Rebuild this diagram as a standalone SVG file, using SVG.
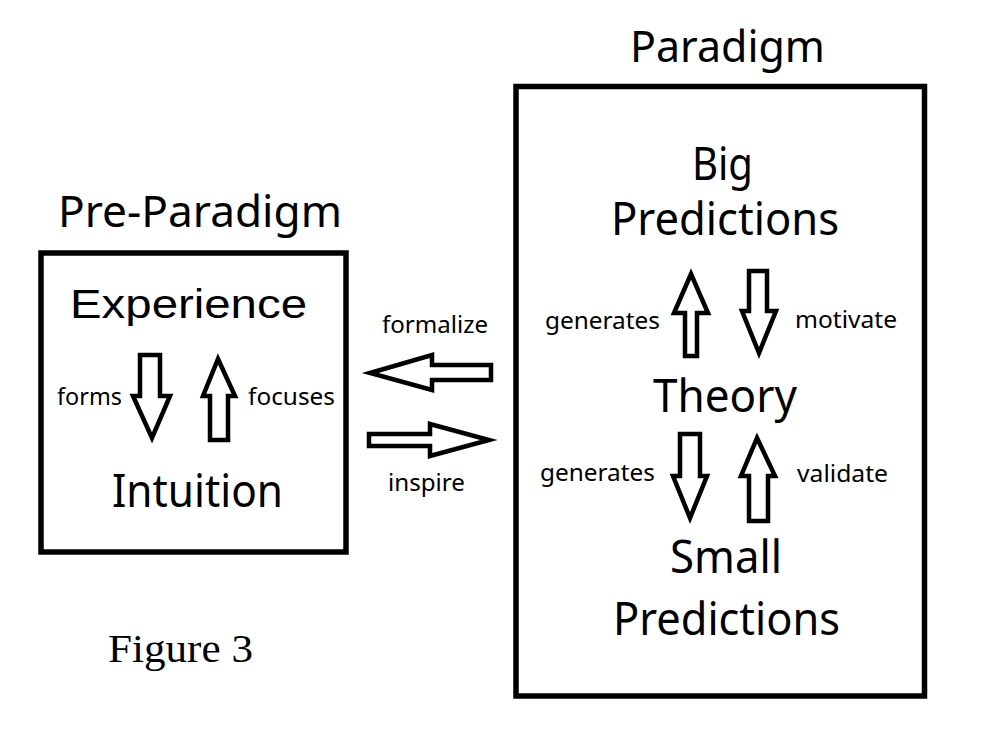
<svg xmlns="http://www.w3.org/2000/svg" width="987" height="745" viewBox="0 0 987 745">
<style>
.box{fill:none;stroke:#000;stroke-width:5.5}
.arr{fill:#fff;stroke:#000;stroke-width:4.5;stroke-linejoin:miter}
.big{font-family:"Noto Sans","Open Sans",sans-serif;font-size:46px;fill:#000}
.ttl{font-family:"Noto Sans","Open Sans",sans-serif;font-size:44px;fill:#000}
.lbl{font-family:"Noto Sans","Open Sans",sans-serif;font-size:23px;fill:#000}
.exp{font-family:"Liberation Sans",Arial,sans-serif;font-size:40px;fill:#000}
.fig{font-family:"Liberation Serif","Times New Roman",serif;font-size:39px;fill:#000}
</style>
<rect width="987" height="745" fill="#fff"/>
<g id="pre-paradigm">
<text class="ttl" x="58" y="227" textLength="284" lengthAdjust="spacingAndGlyphs">Pre-Paradigm</text>
<rect class="box" x="41" y="253" width="305" height="299"/>
</g>
<g id="experience"><text class="exp" x="70" y="318" textLength="237" lengthAdjust="spacingAndGlyphs">Experience</text></g>
<g id="intuition"><text class="big" x="112" y="507" textLength="171" lengthAdjust="spacingAndGlyphs">Intuition</text></g>
<g id="paradigm">
<text class="ttl" x="630" y="62" textLength="195" lengthAdjust="spacingAndGlyphs">Paradigm</text>
<rect class="box" x="516" y="86.5" width="408.5" height="609.5"/>
</g>
<g id="big-predictions">
<text class="big" x="692" y="180" textLength="61" lengthAdjust="spacingAndGlyphs">Big</text>
<text class="big" x="611" y="235" textLength="228" lengthAdjust="spacingAndGlyphs">Predictions</text>
</g>
<g id="theory"><text class="big" x="653" y="412" textLength="144" lengthAdjust="spacingAndGlyphs">Theory</text></g>
<g id="small-predictions">
<text class="big" x="670" y="573" textLength="112" lengthAdjust="spacingAndGlyphs">Small</text>
<text class="big" x="613" y="635" textLength="227" lengthAdjust="spacingAndGlyphs">Predictions</text>
</g>
<g id="figure-caption"><text class="fig" x="108" y="662" textLength="145" lengthAdjust="spacingAndGlyphs">Figure 3</text></g>
<g id="connectors">
<polygon class="arr" points="140,355 160,355 160,396 170,396 152,438 133,396 140,396"/>
<text class="lbl" x="57" y="405" textLength="65" lengthAdjust="spacingAndGlyphs">forms</text>
<polygon class="arr" points="218,359 235,396 228,396 228,440 210,440 210,396 203,396"/>
<text class="lbl" x="248" y="405" textLength="87" lengthAdjust="spacingAndGlyphs">focuses</text>
<polygon class="arr" points="370,373 432,355 432,365 491,365 491,380 432,380 432,390"/>
<text class="lbl" x="382" y="333" textLength="106" lengthAdjust="spacingAndGlyphs">formalize</text>
<polygon class="arr" points="369,434 430,434 430,424 489,440 430,456 430,446 369,446"/>
<text class="lbl" x="388" y="491" textLength="77" lengthAdjust="spacingAndGlyphs">inspire</text>
<polygon class="arr" points="691,274 708,313 697,313 697,356 685,356 685,313 674,313"/>
<text class="lbl" x="545" y="329" textLength="115" lengthAdjust="spacingAndGlyphs">generates</text>
<polygon class="arr" points="749,271 767,271 767,311 776,311 759,353 742,311 749,311"/>
<text class="lbl" x="795" y="328" textLength="102" lengthAdjust="spacingAndGlyphs">motivate</text>
<polygon class="arr" points="680,434 700,434 700,476 707,476 690,518 673,476 680,476"/>
<text class="lbl" x="540" y="481" textLength="115" lengthAdjust="spacingAndGlyphs">generates</text>
<polygon class="arr" points="757,438 775,476 768,476 768,521 749,521 749,476 741,476"/>
<text class="lbl" x="797" y="482" textLength="91" lengthAdjust="spacingAndGlyphs">validate</text>
</g>
</svg>
